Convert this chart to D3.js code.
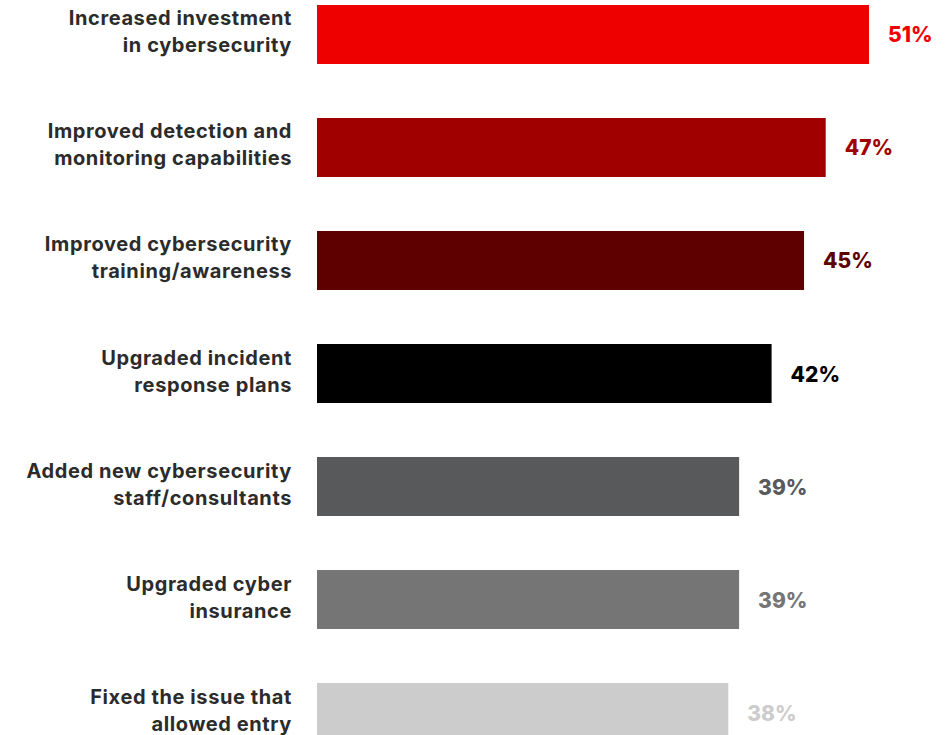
<!DOCTYPE html>
<meta charset="utf-8">
<script src="https://d3js.org/d3.v7.min.js"></script>
<style>
  body { margin: 0; background: #fff; }
  .cat { font-family: Inter, sans-serif; font-weight: 700; font-size: 20px; letter-spacing: 0.6px; fill: #2b2b2b; }
  .val { font-family: Inter, sans-serif; font-weight: 800; font-size: 21px; }
</style>
<div id="chart"></div>
<script>
// chart data
var categories = [
  "Increased investment|in cybersecurity",
  "Improved detection and|monitoring capabilities",
  "Improved cybersecurity|training/awareness",
  "Upgraded incident|response plans",
  "Added new cybersecurity|staff/consultants",
  "Upgraded cyber|insurance",
  "Fixed the issue that|allowed entry"
];
var values = [51, 47, 45, 42, 39, 39, 38];
var colors = ["#ee0000", "#a00000", "#5e0000", "#000000", "#58595b", "#757575", "#cccccc"];

var width = 945, height = 735;
var barLeft = 317;

var svg = d3.select("#chart")
  .append("svg")
    .attr("width", width)
    .attr("height", height);

var data = categories.map(function(c, i) {
  return { cat: c, value: values[i], color: colors[i] };
});

var y = d3.scaleBand()
  .domain(categories)
  .range([5, 742])
  .paddingInner(0.478)
  .paddingOuter(0);

var x = d3.scaleLinear()
  .domain([0, d3.max(values)])
  .range([0, 552]);

var g = svg.selectAll("g.row")
  .data(data)
  .enter().append("g")
    .attr("class", "row");

g.append("rect")
  .attr("x", barLeft)
  .attr("y", function(d) { return y(d.cat); })
  .attr("width", function(d) { return x(d.value); })
  .attr("height", y.bandwidth())
  .attr("fill", function(d) { return d.color; });

g.append("text")
  .attr("class", "val")
  .attr("x", function(d) { return barLeft + x(d.value) + 19; })
  .attr("y", function(d) { return y(d.cat) + y.bandwidth() / 2 + 8; })
  .attr("fill", function(d) { return d.color; })
  .text(function(d) { return d.value + "%"; });

var lab = g.append("text")
  .attr("class", "cat")
  .attr("text-anchor", "end")
  .attr("x", 292)
  .attr("y", function(d) { return y(d.cat) + y.bandwidth() / 2 - 9; });

lab.selectAll("tspan")
  .data(function(d) { return d.cat.split("|"); })
  .enter().append("tspan")
    .attr("x", 292)
    .attr("dy", function(d, i) { return i ? 27 : 0; })
    .text(function(d) { return d; });
</script>
